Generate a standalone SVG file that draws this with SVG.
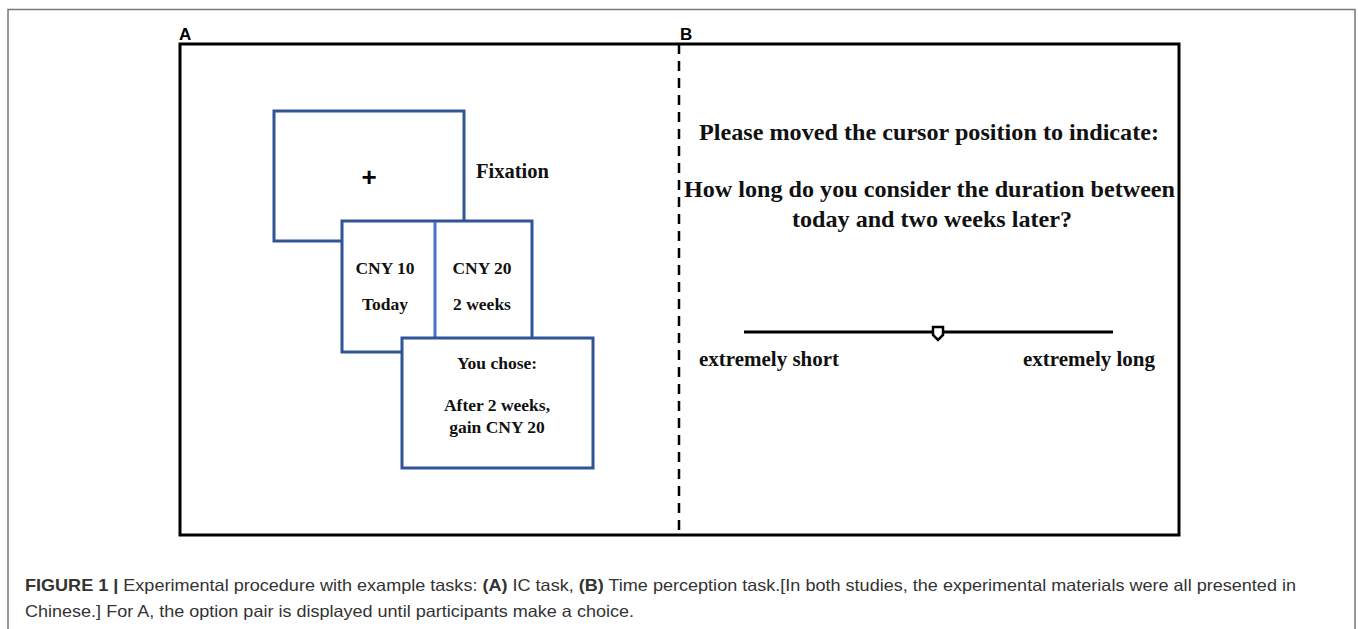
<svg xmlns="http://www.w3.org/2000/svg" width="1358" height="629" viewBox="0 0 1358 629">
<style>
.frame{fill:none;stroke:#777;stroke-width:1.5}
.main{fill:none;stroke:#000;stroke-width:3}
.panel{fill:#fff;stroke:#2f5597;stroke-width:3}
.t{font-family:"Liberation Serif",serif;font-weight:bold;fill:#111}
.lab{font-family:"Liberation Sans",sans-serif;font-weight:bold;font-size:17px;fill:#000}
.cap{font-family:"Liberation Sans",sans-serif;font-size:16.5px;fill:#333}
</style>
<rect width="1358" height="629" fill="#fff"/>
<path class="frame" d="M8,640 V9.5 H1355 V640"/>
<g id="panelA-label"><text class="lab" x="179" y="40">A</text></g>
<g id="panelB-label"><text class="lab" x="680" y="40">B</text></g>
<g id="main-frame"><rect class="main" x="180" y="44" width="999" height="491"/></g>
<g id="connectors"><line x1="679" y1="44" x2="679" y2="535" stroke="#000" stroke-width="2.5" stroke-dasharray="10,7"/></g>
<g id="fixation">
<rect class="panel" x="274" y="111" width="190" height="130"/>
<text x="369" y="186" font-family="Liberation Sans, sans-serif" font-weight="bold" font-size="26" text-anchor="middle" fill="#000">+</text>
<text class="t" x="476" y="178" font-size="20.5" textLength="73" lengthAdjust="spacingAndGlyphs">Fixation</text>
</g>
<g id="options">
<rect class="panel" x="342" y="221" width="190" height="131"/>
<line x1="435" y1="222" x2="435" y2="351" stroke="#4472c4" stroke-width="3"/>
<text class="t" x="385" y="274" font-size="17.5" text-anchor="middle">CNY 10</text>
<text class="t" x="385" y="310" font-size="17.5" text-anchor="middle">Today</text>
<text class="t" x="482" y="274" font-size="17.5" text-anchor="middle">CNY 20</text>
<text class="t" x="482" y="310" font-size="17.5" text-anchor="middle">2 weeks</text>
</g>
<g id="choice">
<rect class="panel" x="402" y="338" width="191" height="130"/>
<text class="t" x="497" y="369" font-size="17.5" text-anchor="middle">You chose:</text>
<text class="t" x="497" y="411" font-size="17.5" text-anchor="middle">After 2 weeks,</text>
<text class="t" x="497" y="433" font-size="17.5" text-anchor="middle">gain CNY 20</text>
</g>
<g id="question">
<text class="t" x="699" y="140" font-size="24" textLength="460" lengthAdjust="spacingAndGlyphs">Please moved the cursor position to indicate:</text>
<text class="t" x="684" y="197" font-size="24" textLength="491" lengthAdjust="spacingAndGlyphs">How long do you consider the duration between</text>
<text class="t" x="792" y="227" font-size="24" textLength="280" lengthAdjust="spacingAndGlyphs">today and two weeks later?</text>
</g>
<g id="slider">
<line x1="744" y1="332" x2="1113" y2="332" stroke="#000" stroke-width="3"/>
<path d="M933,327 H943 V335 L938,340 L933,335 Z" fill="#fff" stroke="#000" stroke-width="2.5"/>
<text class="t" x="699" y="366" font-size="21" textLength="140" lengthAdjust="spacingAndGlyphs">extremely short</text>
<text class="t" x="1023" y="366" font-size="21" textLength="132" lengthAdjust="spacingAndGlyphs">extremely long</text>
</g>
<g id="caption">
<text class="cap" x="25" y="591" textLength="1271" lengthAdjust="spacingAndGlyphs"><tspan font-weight="bold">FIGURE 1 |</tspan> Experimental procedure with example tasks: <tspan font-weight="bold">(A)</tspan> IC task, <tspan font-weight="bold">(B)</tspan> Time perception task.[In both studies, the experimental materials were all presented in</text>
<text class="cap" x="25" y="617" textLength="609" lengthAdjust="spacingAndGlyphs">Chinese.] For A, the option pair is displayed until participants make a choice.</text>
</g>
</svg>
